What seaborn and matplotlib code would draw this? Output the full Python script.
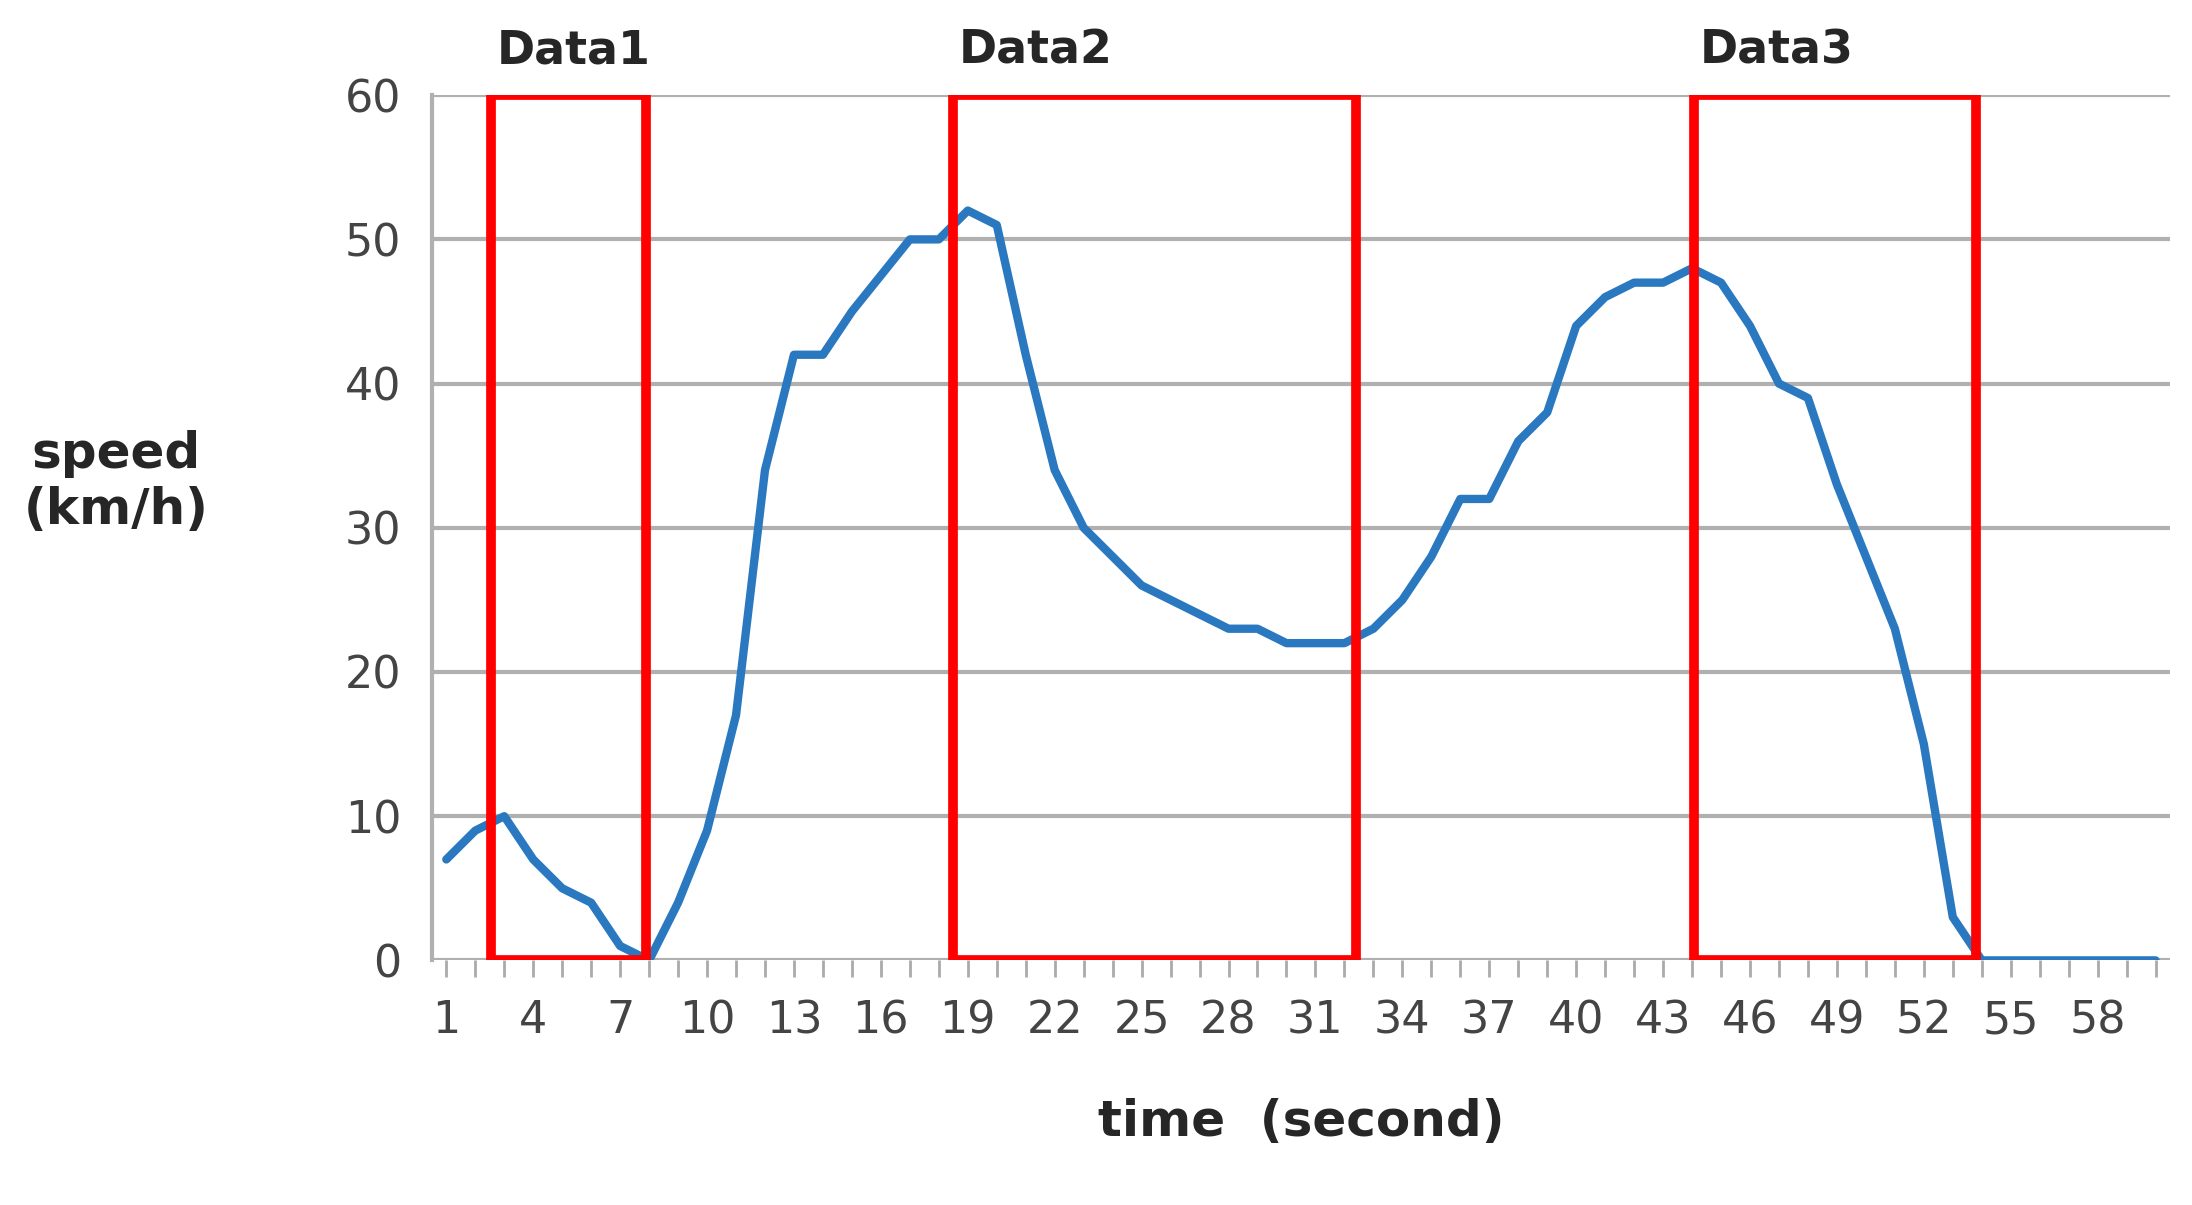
import numpy as np
import pandas as pd
import seaborn as sns
from matplotlib import pyplot as plt
from matplotlib.patches import Rectangle

time_s = list(range(1, 61))
speed = [7, 9, 10, 7, 5, 4, 1, 0, 4, 9,
         17, 34, 42, 42, 45, 47.5, 50, 50, 52, 51,
         42, 34, 30, 28, 26, 25, 24, 23, 23, 22,
         22, 22, 23, 25, 28, 32, 32, 36, 38, 44,
         46, 47, 47, 48, 47, 44, 40, 39, 33, 28,
         23, 15, 3, 0, 0, 0, 0, 0, 0, 0]
box_labels = ["Data1", "Data2", "Data3"]
box_start = [2.55, 18.5, 44.05]
box_end = [7.9, 32.4, 53.8]

sns.set_style("white")
plt.rcParams['font.family'] = ['DejaVu Sans']

df = pd.DataFrame({"time": time_s, "speed": speed})
fig = plt.figure(figsize=(21.92, 12.05), dpi=100)
ax = fig.add_axes([0.197, 0.203, 0.793, 0.718])
for y in range(0, 61, 10):
    ax.axhline(y, color="#b0b0b0", lw=3, zorder=0)
sns.lineplot(data=df, x="time", y="speed", color="#2a78c0", lw=6, ax=ax, zorder=2)

for lab, s, e in zip(box_labels, box_start, box_end):
    ax.add_patch(Rectangle((s, 0), e - s, 60, fill=False, ec="#ff0000", lw=7, zorder=3))
    ax.text(s + 0.2, 61.5, lab, fontsize=33, fontweight="bold", ha="left", va="bottom")

ax.set_xlim(0.5, 60.5)
ax.set_ylim(0, 60)
ax.set_xticks(range(1, 61))
ax.set_xticklabels([str(t) if (t - 1) % 3 == 0 else "" for t in time_s], fontsize=32, color="#444444")
ax.set_yticks(range(0, 61, 10))
ax.set_yticklabels([str(v) for v in range(0, 61, 10)], fontsize=32, color="#444444")
ax.tick_params(axis="x", bottom=True, length=12, width=2, color="#aaaaaa", pad=16)
ax.tick_params(axis="y", length=0, pad=22)
for sp in ["top", "right", "bottom"]:
    ax.spines[sp].set_visible(False)
ax.spines["left"].set_color("#b0b0b0")
ax.spines["left"].set_linewidth(3)
ax.set_xlabel("time  (second)", fontsize=36, fontweight="bold", labelpad=40)
ax.set_ylabel("")
fig.text(0.053, 0.6, "speed\n(km/h)", fontsize=36, fontweight="bold", ha="center", va="center")
fig.savefig("out.png", dpi=100)
